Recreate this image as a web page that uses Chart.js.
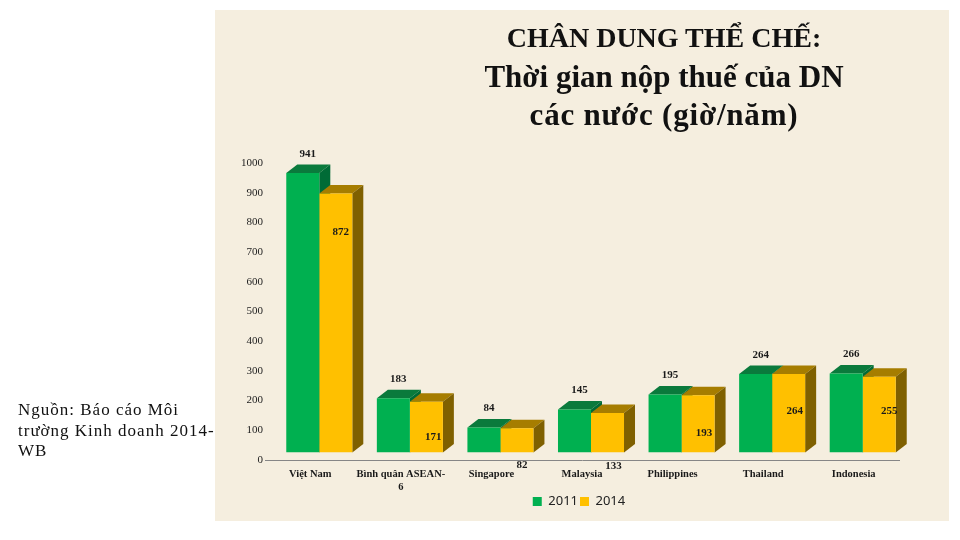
<!DOCTYPE html>
<html lang="vi">
<head>
<meta charset="utf-8">
<title>Thời gian nộp thuế</title>
<script src="https://cdn.jsdelivr.net/npm/chart.js@4/dist/chart.umd.min.js"></script>
<style>
html,body{margin:0;padding:0;background:#fff;width:960px;height:540px;overflow:hidden}
#panel{position:absolute;left:215px;top:10px;width:734px;height:511px;background:#f5eedf}
#mycanvas{position:absolute;left:0;top:0}
#title{position:absolute;left:420px;top:18px;width:488px;text-align:center;font:bold 31px/38.5px "Liberation Serif",serif;color:#111}
#title .l1{font-size:28px}
#title .l3{letter-spacing:.8px}
#source{position:absolute;left:18px;top:400px;width:200px;font:17px/20.5px "Liberation Serif",serif;letter-spacing:1px;color:#111}
</style>
</head>
<body>
<div id="panel"><canvas id="mycanvas" width="734" height="511"></canvas></div>
<div id="title"><span class="l1">CHÂN DUNG THỂ CHẾ:</span><br>Thời gian nộp thuế của DN<br><span class="l3">các nước (giờ/năm)</span></div>
<div id="source">Nguồn: Báo cáo Môi trường Kinh doanh 2014-WB</div>
<script>
var categories=['Việt Nam',['Bình quân ASEAN-','6'],'Singapore','Malaysia','Philippines','Thailand','Indonesia'];
var values2011=[941,183,84,145,195,264,266];
var values2014=[872,171,82,133,193,264,255];
var yMax=1000;
var yStep=100;

// hand placed labels, px from the top of each bar
var labelDx2014=[14,16,14,15,15,15,19];
var labelDy2014=[31,28,30,46,30,30,27];

var shiftX=9, shiftY=-7.5;   // bars sit behind the axis floor
var depthX=11, depthY=8.5;

var bars3d={
	id:'bars3d',
	afterLayout:function(chart){
		// legend is centred on the panel, not on the padded area
		chart.legend.left+=22;
		chart.legend.right+=22;
	},
	beforeDatasetsDraw:function(chart){
		var ctx=chart.ctx;
		ctx.save();
		ctx.translate(shiftX,shiftY);
		chart.data.datasets.forEach(function(ds,i){
			chart.getDatasetMeta(i).data.forEach(function(el){
				var l=el.x-el.width/2, r=el.x+el.width/2;
				ctx.fillStyle=ds.topColor;
				ctx.beginPath();
				ctx.moveTo(l,el.y);
				ctx.lineTo(l+depthX,el.y-depthY);
				ctx.lineTo(r+depthX,el.y-depthY);
				ctx.lineTo(r,el.y);
				ctx.closePath();
				ctx.fill();
				ctx.fillStyle=ds.sideColor;
				ctx.beginPath();
				ctx.moveTo(r,el.y);
				ctx.lineTo(r+depthX,el.y-depthY);
				ctx.lineTo(r+depthX,el.base-depthY);
				ctx.lineTo(r,el.base);
				ctx.closePath();
				ctx.fill();
			});
		});
	},
	afterDatasetsDraw:function(chart){
		var ctx=chart.ctx;
		ctx.restore();
		ctx.save();
		ctx.font='bold 11px "Liberation Serif",serif';
		ctx.fillStyle='#1a1a1a';
		ctx.textAlign='center';
		ctx.textBaseline='middle';
		chart.getDatasetMeta(0).data.forEach(function(el,i){
			ctx.fillText(values2011[i],el.x+14,el.y-26.5);
		});
		chart.getDatasetMeta(1).data.forEach(function(el,i){
			ctx.fillText(values2014[i],el.x+labelDx2014[i],el.y+labelDy2014[i]);
		});
		ctx.restore();
	}
};

var chartdata={
	labels:categories,
	datasets:[
		{label:'2011',data:values2011,backgroundColor:'#00b050',topColor:'#0a7a3c',sideColor:'#006b36'},
		{label:'2014',data:values2014,backgroundColor:'#ffc000',topColor:'#a67d00',sideColor:'#7f6000'}
	]
};

new Chart(document.getElementById('mycanvas'),{
	type:'bar',
	data:chartdata,
	plugins:[bars3d],
	options:{
		responsive:false,
		animation:false,
		devicePixelRatio:1,
		categoryPercentage:0.729,
		barPercentage:1,
		layout:{padding:{left:0,right:50,top:153,bottom:3}},
		plugins:{
			tooltip:{enabled:false},
			title:{display:false},
			legend:{
				position:'bottom',
				labels:{
					boxWidth:9,
					boxHeight:9,
					padding:2,
					color:'#222',
					font:{family:'"Noto Sans"',size:13}
				}
			}
		},
		scales:{
			x:{
				grid:{display:false,drawTicks:false},
				border:{display:true,color:'#868686'},
				ticks:{
					color:'#1a1a1a',
					padding:8,
					maxRotation:0,
					autoSkip:false,
					font:{family:'"Liberation Serif"',size:10.5,weight:'bold',lineHeight:1.2}
				},
				afterFit:function(scale){scale.height=33;}
			},
			y:{
				min:0,
				max:yMax,
				grid:{display:false,drawTicks:false},
				border:{display:false},
				ticks:{
					stepSize:yStep,
					format:{useGrouping:false},
					color:'#222',
					padding:2,
					font:{family:'"Liberation Serif"',size:11}
				},
				afterFit:function(scale){scale.width=50;}
			}
		}
	}
});
</script>
</body>
</html>
